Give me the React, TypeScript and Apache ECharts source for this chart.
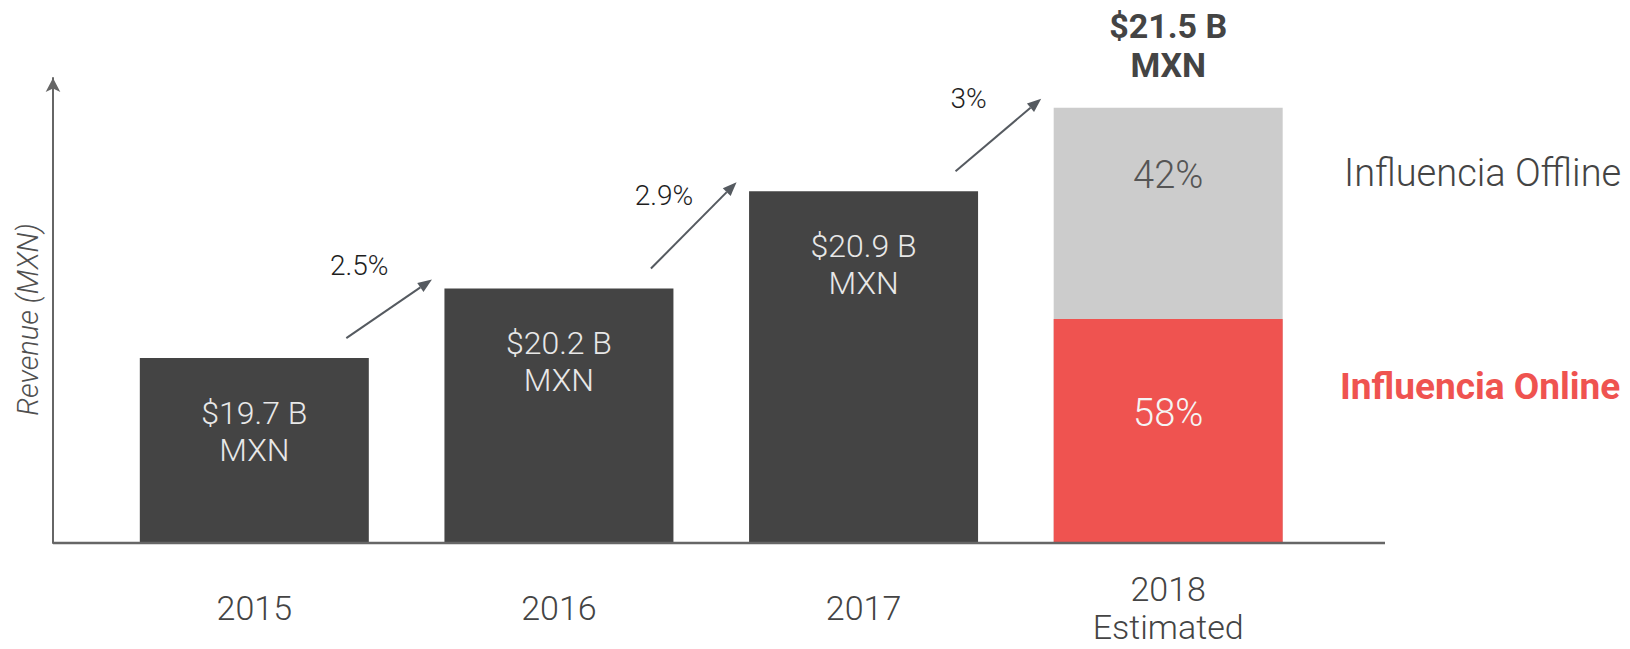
import React, { useEffect, useRef } from "react";
import * as echarts from "echarts";

const years = ["2015", "2016", "2017", "2018\nEstimated"];
const revenue = [19.7, 20.2, 20.9, 21.5];
const growth = ["2.5%", "2.9%", "3%"];
const shareOnline = 58;
const shareOffline = 42;
// level (in axis units) where the online segment of the 2018 bar ends
const onlineLevel2018 = 19.98;
const axisMin = 18.37;
const axisMax = 21.714;

const FONT = "Roboto, 'Noto Sans', sans-serif";
const DARK = "#444444";
const RED = "#EF5350";
const GRAY = "#CCCCCC";
const AXIS = "#666666";

export default function App() {
  const ref = useRef<HTMLDivElement>(null);
  useEffect(() => {
    document.body.style.margin = "0";
    const chart = echarts.init(ref.current!, null, { renderer: "svg" });
    const barW = 229;
    const option: any = {
      animation: false,
      grid: { left: 102, right: 309.5, top: 78, bottom: 106 },
      legend: [
        {
          data: ["Influencia Offline"],
          orient: "vertical",
          left: 1334,
          top: 148,
          icon: "none",
          itemWidth: 0,
          itemHeight: 0,
          selectedMode: false,
          textStyle: { fontFamily: FONT, fontWeight: 300, fontSize: 38, lineHeight: 40, color: "#444" },
        },
        {
          data: ["Influencia Online"],
          orient: "vertical",
          left: 1330,
          top: 361,
          icon: "none",
          itemWidth: 0,
          itemHeight: 0,
          selectedMode: false,
          textStyle: { fontFamily: FONT, fontWeight: "bold", fontSize: 37, lineHeight: 40, color: RED },
        },
      ],
      xAxis: {
        type: "category",
        data: years,
        axisLine: { show: false },
        axisTick: { show: false },
        axisLabel: {
          margin: 65,
          verticalAlign: "middle",
          fontFamily: FONT,
          fontWeight: 300,
          fontSize: 34,
          lineHeight: 38,
          color: "#444",
        },
      },
      yAxis: {
        type: "value",
        min: axisMin,
        max: axisMax,
        offset: 49,
        name: "Revenue (MXN)",
        nameLocation: "middle",
        nameRotate: 90,
        nameGap: 11,
        nameTextStyle: { fontFamily: FONT, fontStyle: "italic", fontWeight: 300, fontSize: 29, color: "#505050", padding: [0, 18, 0, 0] },
        axisLine: {
          show: true,
          symbol: ["none", "arrow"],
          symbolSize: [11, 14],
          lineStyle: { color: AXIS, width: 2 },
        },
        axisTick: { show: false },
        axisLabel: { show: false },
        splitLine: { show: false },
      },
      graphic: [
        {
          type: "line",
          shape: { x1: 53, y1: 543, x2: 1385, y2: 543 },
          style: { stroke: AXIS, lineWidth: 2.5 },
          z: 10,
        },
      ],
      series: [
        {
          name: "Revenue",
          type: "bar",
          barWidth: barW,
          barGap: "-100%",
          itemStyle: { color: DARK },
          label: {
            show: true,
            position: "insideTop",
            distance: 36,
            formatter: (p: any) => `$${Number(p.value).toFixed(1)} B\nMXN`,
            fontFamily: FONT,
            fontWeight: 300,
            fontSize: 32,
            lineHeight: 37,
            color: "#E8E8E8",
          },
          data: revenue.map((v, i) =>
            i === revenue.length - 1
              ? {
                  value: v,
                  itemStyle: { color: "rgba(0,0,0,0)" },
                  label: {
                    position: "top",
                    distance: 23,
                    fontWeight: "bold",
                    fontSize: 34,
                    lineHeight: 39.5,
                    color: DARK,
                  },
                }
              : v
          ),
          z: 2,
        },
        {
          name: "Influencia Offline",
          type: "bar",
          barWidth: barW,
          barGap: "-100%",
          itemStyle: { color: GRAY },
          label: {
            show: true,
            position: "insideTop",
            distance: 47,
            formatter: () => `${shareOffline}%`,
            fontFamily: FONT,
            fontWeight: 300,
            fontSize: 38,
            lineHeight: 40,
            color: "#555",
          },
          data: revenue.map((v, i) => (i === revenue.length - 1 ? v : "-")),
          z: 3,
        },
        {
          name: "Influencia Online",
          type: "bar",
          barWidth: barW,
          barGap: "-100%",
          itemStyle: { color: RED },
          label: {
            show: true,
            position: "insideTop",
            distance: 74,
            formatter: () => `${shareOnline}%`,
            fontFamily: FONT,
            fontWeight: 300,
            fontSize: 38,
            lineHeight: 40,
            color: "#F5F5F5",
          },
          data: revenue.map((v, i) => (i === revenue.length - 1 ? onlineLevel2018 : "-")),
          z: 4,
        },
        {
          name: "Growth",
          type: "custom",
          encode: { x: 0, y: 1 },
          z: 5,
          data: growth.map((g, i) => [i, revenue[i], revenue[i + 1]]),
          renderItem: (params: any, api: any) => {
            const i = api.value(0);
            const p0 = api.coord([i, api.value(1)]);
            const p1 = api.coord([i + 1, api.value(2)]);
            const sx = p0[0] + 92;
            const sy = p0[1] - 20;
            const ex = p1[0] - 127;
            const ey = p1[1] - 9;
            const ang = Math.atan2(ey - sy, ex - sx);
            const L = 14;
            const W = 5.5;
            const bx = ex - L * Math.cos(ang);
            const by = ey - L * Math.sin(ang);
            const nx = -Math.sin(ang);
            const ny = Math.cos(ang);
            return {
              type: "group",
              children: [
                {
                  type: "line",
                  shape: { x1: sx, y1: sy, x2: bx, y2: by },
                  style: { stroke: "#555A60", lineWidth: 2 },
                },
                {
                  type: "polygon",
                  shape: { points: [[ex, ey], [bx + nx * W, by + ny * W], [bx - nx * W, by - ny * W]] },
                  style: { fill: "#555A60" },
                },
                {
                  type: "text",
                  x: sx + 13,
                  y: sy - 73,
                  style: {
                    text: growth[i],
                    fill: "#1E1E1E",
                    fontFamily: FONT,
                    fontWeight: 300,
                    fontSize: 28,
                    align: "center",
                    verticalAlign: "middle",
                  },
                },
              ],
            };
          },
        },
      ],
    };
    chart.setOption(option);
    return () => chart.dispose();
  }, []);
  return <div ref={ref} style={{ position: "absolute", left: 0, top: 0, width: 1630, height: 649 }} />;
}
